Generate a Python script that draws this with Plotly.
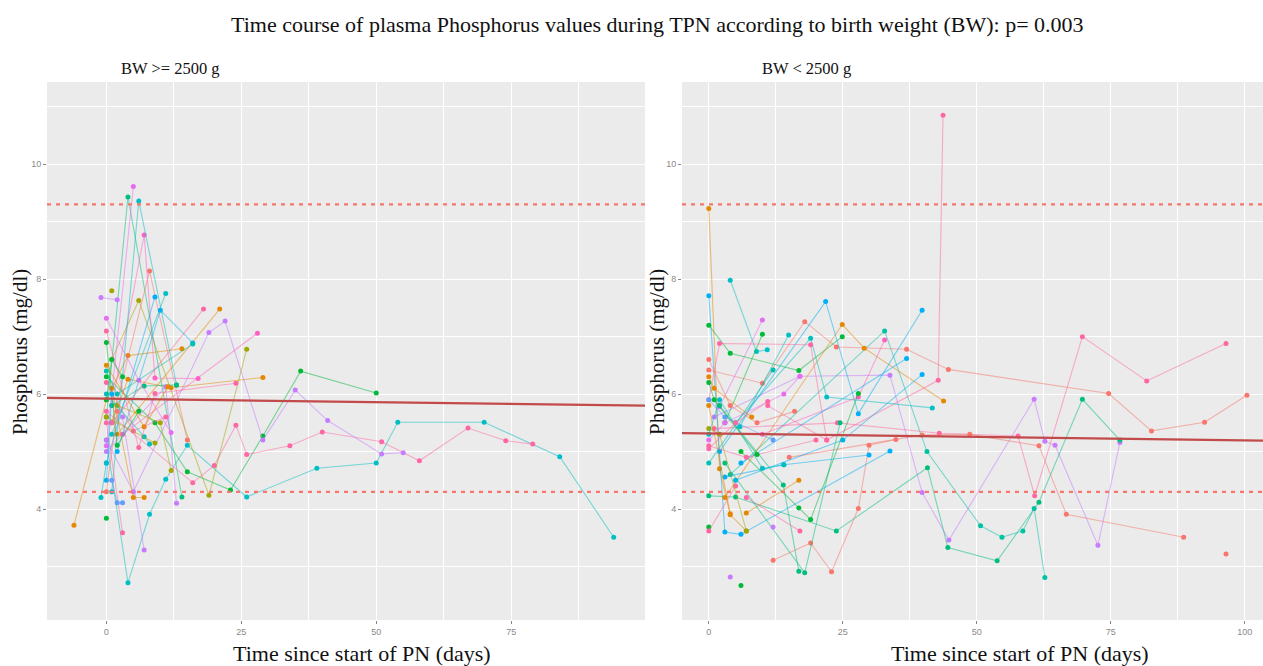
import plotly.graph_objects as go

# ---------------- data ----------------
title_text = "Time course of plasma Phosphorus values during TPN according to birth weight (BW): p= 0.003"
panel_labels = ["BW >= 2500 g", "BW < 2500 g"]
x_title = "Time since start of PN (days)"
y_title = "Phosphorus (mg/dl)"
x_ticks_left = [0, 25, 50, 75]
x_ticks_right = [0, 25, 50, 75, 100]
y_ticks = [4, 6, 8, 10]
ref_low, ref_high = 4.3, 9.3
fit_left = (5.92, -0.0012)   # intercept, slope
fit_right = (5.316, -0.0012)

# patients, BW >= 2500 g : (days, phosphorus)
left_days = [
    [0, 4, 8, 11, 15, 26, 39, 50, 54, 70, 84, 94],
    [0, 4, 14],
    [0, 9, 15, 23, 29, 36, 50],
    [0, 16, 20, 24, 26, 34, 40, 51, 58, 67, 74, 79],
    [0, 5, 19, 22, 29, 35, 41, 51, 55],
    [0, 4, 14],
    [1, 4, 12, 29],
    [1, 6, 19, 26],
    [1, 8, 15],
    [2, 21],
    [1, 18],
    [3, 28],
    [0, 5],
    [1, 7, 9, 17],
    [-1, 2],
    [1],
    [-6, 0],
    [1, 11],
    [2, 10, 16],
    [1, 6, 13],
    [0, 9],
    [3, 7],
    [0, 3],
    [1, 2, 3],
    [0],
    [1, 5, 7],
    [1, 7, 13],
    [0, 11, 13],
    [2, 10, 12],
    [0, 2, 6],
    [0, 5, 11],
    [0, 7, 8],
    [0, 7, 11.4],
    [0, 6, 9, 24],
    [0, 9],
    [0, 6, 12],
    [-1, 0],
    [0, 2, 16],
    [0, 1, 3],
    [0, 1],
    [0, 2],
]
left_vals = [
    [5.2, 2.72, 3.91, 4.52, 5.11, 4.21, 4.71, 4.8, 5.51, 5.51, 4.91, 3.51],
    [5.6, 9.43, 4.21],
    [6.3, 5.5, 4.65, 4.33, 5.27, 6.4, 6.02],
    [5.7, 4.46, 4.76, 5.46, 4.95, 5.1, 5.34, 5.17, 4.84, 5.41, 5.19, 5.13],
    [5.2, 4.3, 7.07, 7.27, 5.2, 6.07, 5.54, 4.96, 4.98],
    [5.9, 6.67, 6.79],
    [5.5, 6.26, 6.11, 6.29],
    [6.6, 7.63, 4.24, 6.78],
    [5.5, 8.14, 5.2],
    [5.3, 7.48],
    [5.5, 7.48],
    [5.3, 7.06],
    [5.1, 9.61],
    [5.8, 8.77, 6.28, 6.27],
    [7.68, 7.64],
    [7.8],
    [3.72, 5.9],
    [5.3, 7.75],
    [5.0, 7.46, 6.89],
    [4.3, 9.36, 6.16],
    [4.8, 7.69],
    [5.6, 3.29],
    [5.5, 3.59],
    [4.5, 4.11, 4.11],
    [3.84],
    [6.1, 4.2, 4.2],
    [5.8, 6.14, 6.16],
    [5.0, 6.13, 4.1],
    [5.8, 5.5, 4.67],
    [6.9, 5.11, 5.7],
    [6.2, 5.36, 5.6],
    [6.0, 5.26, 5.13],
    [6.5, 5.43, 6.13],
    [7.1, 5.07, 6.01, 6.19],
    [5.6, 5.15],
    [7.32, 6.24, 5.33],
    [4.2, 4.8],
    [6.4, 6.0, 6.87],
    [5.9, 6.6, 6.3],
    [4.5, 6.0],
    [4.3, 5.7],
]

# patients, BW < 2500 g : (days, phosphorus)
right_days = [
    [0, 2, 4, 7],
    [11, 22, 42.8, 43.7],
    [0, 10, 17.9, 23.8, 36.9, 44.7, 74.6, 82.6, 92.5, 100.4],
    [1, 24, 43, 57.7, 60.8, 69.7, 81.7, 96.5],
    [1, 17, 33.8, 39.8, 44.8, 60.7, 62.7, 64.6, 72.6, 76.7],
    [2, 10],
    [0, 5, 23.8, 40.8, 44.6, 53.8, 61.6, 69.7, 76.7],
    [4, 32.8, 40.7, 50.7, 54.7, 58.6, 60.7, 62.7],
    [7, 16.8],
    [15, 39.8, 48.7, 61.6, 66.7, 88.6],
    [96.5],
    [12, 19, 22.9, 27.9, 29.9, 34.9],
    [0, 3, 6, 33.8],
    [4, 8.9, 10.9],
    [0, 4, 16.8, 24.9],
    [3, 10],
    [3, 24.9, 29, 43.8],
    [2, 21.8, 27.9, 39.8],
    [5, 19, 22, 41.7],
    [0, 2, 19, 22],
    [10, 27.9, 32.8],
    [5.8, 14.9],
    [6, 36.9],
    [5, 25, 39.8],
    [3, 14, 29.9],
    [2, 13.9, 16.8],
    [3, 17.9, 24.5],
    [6, 16.8, 19, 27.9],
    [4],
    [6],
    [12],
    [7, 17],
    [0],
    [0, 5],
    [0, 4, 9, 16],
    [0, 4],
    [0, 7, 20],
    [0, 2, 7],
    [0, 3, 12],
    [0, 3, 14, 17],
    [0, 2, 10, 14],
    [0, 1, 9],
    [0, 12],
    [0, 5, 11],
    [0, 1, 8],
]
right_vals = [
    [9.23, 4.7, 3.9, 3.62],
    [5.8, 5.2, 6.24, 10.85],
    [6.42, 6.19, 7.26, 6.82, 6.78, 6.43, 6.01, 5.36, 5.51, 5.98],
    [5.4, 5.5, 5.32, 5.27, 4.23, 7.0, 6.23, 6.88],
    [5.6, 6.31, 6.33, 4.29, 3.46, 5.91, 5.18, 5.11, 3.37, 5.16],
    [5.78, 7.29],
    [4.23, 4.21, 3.62, 4.72, 3.33, 3.1, 4.12, 5.91, 5.2],
    [4.6, 7.1, 5.0, 3.71, 3.51, 3.62, 4.01, 2.81],
    [3.93, 4.5],
    [4.9, 5.29, 5.3, 5.1, 3.91, 3.51],
    [3.22],
    [3.11, 3.41, 2.91, 4.01, 5.11, 5.21],
    [7.71, 3.6, 3.56, 5.01],
    [7.98, 6.74, 6.77],
    [7.2, 6.71, 6.41, 7.0],
    [5.5, 7.04],
    [4.2, 7.21, 6.8, 5.88],
    [5.0, 7.61, 5.66, 7.46],
    [5.5, 6.97, 5.95, 5.76],
    [5.9, 6.88, 6.86, 5.2],
    [5.3, 5.95, 6.94],
    [5.43, 7.03],
    [4.8, 6.62],
    [4.5, 5.2, 6.34],
    [4.56, 4.77, 4.94],
    [5.8, 4.42, 2.92],
    [4.8, 2.89, 5.5],
    [5.0, 4.02, 3.82, 6.01],
    [2.82],
    [2.67],
    [3.69],
    [4.2, 3.62],
    [3.69],
    [3.62, 4.4],
    [6.6, 5.8, 5.5, 5.7],
    [5.8, 3.92],
    [5.1, 4.9, 5.2],
    [5.4, 5.3, 3.62],
    [5.9, 5.6, 5.2],
    [5.2, 5.5, 6.0, 6.31],
    [5.3, 5.9, 4.71, 4.77],
    [6.2, 5.9, 4.95],
    [4.8, 6.42],
    [5.05, 5.5, 5.87],
    [6.3, 6.1, 5.6],
]

# ---------------- styles ----------------
left_colors = ["#00BFC4", "#00BF7D", "#00BA38", "#FF67A4", "#C77CFF", "#E58700", "#E58700",
               "#A3A500", "#F8766D", "#E58700", "#FF67A4", "#FF61C3", "#E76BF3", "#FF61C3",
               "#C77CFF", "#A3A500", "#E58700", "#00BFC4", "#00B0F6", "#00BFC4", "#00A9FF",
               "#C77CFF", "#FF67A4", "#619CFF", "#00BA38", "#E58700", "#00BF7D", "#C77CFF",
               "#A3A500", "#00BA38", "#FF67A4", "#00BFC4", "#E58700", "#FF67A4", "#A3A500",
               "#E76BF3", "#00BFC4", "#00C0AF", "#00BA38", "#00B0F6", "#F8766D"]
right_colors = ["#E58700", "#FF67A4", "#F8766D", "#FF67A4", "#C77CFF", "#E76BF3", "#00BF7D",
                "#00C1A3", "#E58700", "#F8766D", "#F8766D", "#F8766D", "#00B0F6", "#00BFC4",
                "#00BA38", "#00BA38", "#E58700", "#00B0F6", "#00BFC4", "#FF67A4", "#FF61C3",
                "#00BFC4", "#00B0F6", "#00B0F6", "#00B0F6", "#00BF7D", "#00BF7D", "#00BA38",
                "#C77CFF", "#00BA38", "#C77CFF", "#FF67A4", "#00BA38", "#FF67A4", "#F8766D",
                "#E58700", "#FF67A4", "#A3A500", "#619CFF", "#E76BF3", "#00BFC4", "#00BA38",
                "#00C0AF", "#FF67A4", "#E58700"]

W, H = 1263, 666
def px_x(p): return p / W
def px_y(p): return 1 - p / H

def rgba(hexc, a):
    h = hexc.lstrip("#")
    r, g, b = int(h[0:2], 16), int(h[2:4], 16), int(h[4:6], 16)
    return f"rgba({r},{g},{b},{a})"

fig = go.Figure()

def add_panel(days_list, vals_list, colors, xa, ya, xr, fit):
    for d, v, c in zip(days_list, vals_list, colors):
        fig.add_trace(go.Scatter(x=d, y=v, mode="lines+markers", xaxis=xa, yaxis=ya,
                                 line=dict(color=rgba(c, 0.5), width=1.1),
                                 marker=dict(color=c, size=5),
                                 showlegend=False, hoverinfo="x+y"))
    for yv in (ref_low, ref_high):
        fig.add_trace(go.Scatter(x=list(xr), y=[yv, yv], mode="lines", xaxis=xa, yaxis=ya,
                                 line=dict(color="#F8766D", width=2.2, dash="4px,5px"),
                                 showlegend=False, hoverinfo="skip"))
    b0, b1 = fit
    fig.add_trace(go.Scatter(x=list(xr), y=[b0 + b1 * xr[0], b0 + b1 * xr[1]], mode="lines",
                             xaxis=xa, yaxis=ya, line=dict(color="#C24A4A", width=2.2),
                             showlegend=False, hoverinfo="skip"))

xr_left = (-11.0, 99.8)
xr_right = (-5.0, 103.4)
yr = (2.07, 11.43)

add_panel(left_days, left_vals, left_colors, "x", "y", xr_left, fit_left)
add_panel(right_days, right_vals, right_colors, "x2", "y2", xr_right, fit_right)

axis_common = dict(showline=False, zeroline=False, gridcolor="white", gridwidth=1.2,
                   ticks="outside", ticklen=3, tickcolor="#888888", tickwidth=1,
                   tickfont=dict(family="Liberation Sans", size=9, color="#8a8a8a"))

ydom = [px_y(620), px_y(82)]
fig.update_layout(
    width=W, height=H, margin=dict(l=0, r=0, t=0, b=0),
    paper_bgcolor="white", plot_bgcolor="#EBEBEB",
    xaxis=dict(domain=[px_x(47), px_x(645)], range=list(xr_left), tickvals=x_ticks_left,
               anchor="y", minor=dict(showgrid=True, gridcolor="white", gridwidth=0.5,
                                       tick0=12.5, dtick=25, ticks=""), **axis_common),
    yaxis=dict(domain=ydom, range=list(yr), tickvals=y_ticks, anchor="x",
               minor=dict(showgrid=True, gridcolor="white", gridwidth=0.5,
                          tick0=3, dtick=2, ticks=""), **axis_common),
    xaxis2=dict(domain=[px_x(682), 1.0], range=list(xr_right), tickvals=x_ticks_right,
                anchor="y2", minor=dict(showgrid=True, gridcolor="white", gridwidth=0.5,
                                        tick0=12.5, dtick=25, ticks=""), **axis_common),
    yaxis2=dict(domain=ydom, range=list(yr), tickvals=y_ticks, anchor="x2",
                minor=dict(showgrid=True, gridcolor="white", gridwidth=0.5,
                           tick0=3, dtick=2, ticks=""), **axis_common),
)

serif = "Liberation Serif"
ann = [
    dict(text=title_text, x=px_x(657), y=px_y(25), font=dict(family=serif, size=22, color="#111")),
    dict(text=panel_labels[0], x=px_x(170), y=px_y(68), font=dict(family=serif, size=16.5, color="#111")),
    dict(text=panel_labels[1], x=px_x(806), y=px_y(68), font=dict(family=serif, size=16.5, color="#111")),
    dict(text=x_title, x=px_x(362), y=px_y(653), font=dict(family=serif, size=22, color="#111")),
    dict(text=x_title, x=px_x(1020), y=px_y(653), font=dict(family=serif, size=22, color="#111")),
    dict(text=y_title, x=px_x(20), y=px_y(352), textangle=-90, font=dict(family=serif, size=21, color="#111")),
    dict(text=y_title, x=px_x(657), y=px_y(352), textangle=-90, font=dict(family=serif, size=21, color="#111")),
]
for a in ann:
    fig.add_annotation(xref="paper", yref="paper", showarrow=False, xanchor="center", yanchor="middle", **a)

fig.write_html("out.html", config={"displayModeBar": False},
               post_script="document.body.style.margin='0';document.body.style.overflow='hidden';")
